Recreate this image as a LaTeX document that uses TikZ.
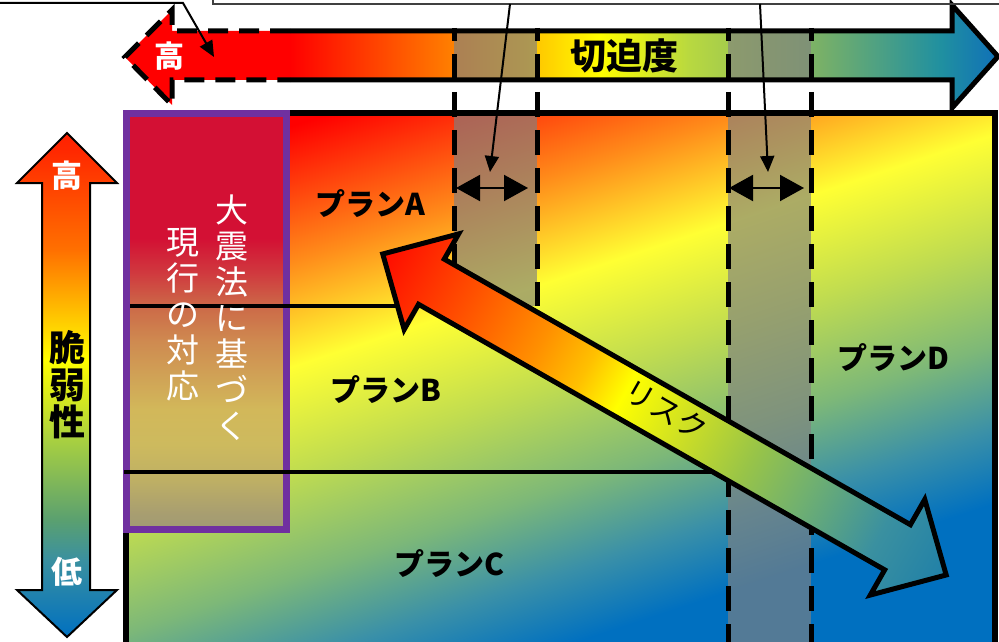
\documentclass[tikz,border=0pt]{standalone}
\usepackage{fontspec}
\setmainfont{Noto Sans CJK JP}
\usetikzlibrary{arrows.meta}

% main box colours
\definecolor{mA}{HTML}{0070C0}
\definecolor{mB}{HTML}{3A90A8}
\definecolor{mC}{HTML}{7DB878}
\definecolor{mD}{HTML}{C0DC50}
\definecolor{mE}{HTML}{FFFF33}
\definecolor{mF}{HTML}{FF8C1A}
\definecolor{mG}{HTML}{FF0000}
\pgfdeclareverticalshading{mainbg}{100bp}{color(0bp)=(mA); color(34bp)=(mA); color(38.4bp)=(mB); color(43.4bp)=(mC); color(49.6bp)=(mD); color(55.9bp)=(mE); color(62.1bp)=(mF); color(70.2bp)=(mG); color(100bp)=(mG)}

% top arrow colours
\definecolor{tR}{HTML}{FF0000}
\definecolor{tO}{HTML}{FF8000}
\definecolor{tY}{HTML}{FFFF00}
\definecolor{tL}{HTML}{B8D840}
\definecolor{tG}{HTML}{78B068}
\definecolor{tT}{HTML}{2090A0}
\definecolor{tB}{HTML}{1070B8}
\pgfdeclarehorizontalshading{toparr}{100bp}{color(0bp)=(tR); color(34.45bp)=(tR); color(43.8bp)=(tO); color(52.2bp)=(tY); color(57.35bp)=(tL); color(64.8bp)=(tG); color(71.7bp)=(tT); color(75bp)=(tB); color(100bp)=(tB)}

% big diagonal arrow colours
\definecolor{bA}{HTML}{FF0A00}
\definecolor{bB}{HTML}{FF5000}
\definecolor{bC}{HTML}{FF9000}
\definecolor{bD}{HTML}{FFC000}
\definecolor{bE}{HTML}{FFFF00}
\definecolor{bF}{HTML}{C8DC28}
\definecolor{bG}{HTML}{98C448}
\definecolor{bH}{HTML}{70B070}
\definecolor{bI}{HTML}{3A90A0}
\definecolor{bJ}{HTML}{2080A8}
\pgfdeclarehorizontalshading{bigarr}{100bp}{color(0bp)=(bA); color(25bp)=(bA); color(32.5bp)=(bB); color(39bp)=(bC); color(43bp)=(bD); color(46.5bp)=(bE); color(52.5bp)=(bF); color(57.5bp)=(bG); color(62.5bp)=(bH); color(69bp)=(bI); color(75bp)=(bJ); color(100bp)=(bJ)}

% left vertical arrow colours
\definecolor{lA}{HTML}{0070C0}
\definecolor{lB}{HTML}{3A90A0}
\definecolor{lC}{HTML}{5AA070}
\definecolor{lD}{HTML}{A8D040}
\definecolor{lE}{HTML}{FFFF00}
\definecolor{lF}{HTML}{FFB000}
\definecolor{lG}{HTML}{FF7000}
\definecolor{lH}{HTML}{FF2800}
\definecolor{lI}{HTML}{FF2000}
\pgfdeclareverticalshading{leftarr}{100bp}{color(0bp)=(lA); color(25bp)=(lA); color(32.65bp)=(lB); color(36.6bp)=(lC); color(44.55bp)=(lD); color(52.5bp)=(lE); color(58.45bp)=(lF); color(63.4bp)=(lG); color(73.3bp)=(lH); color(75bp)=(lI); color(100bp)=(lI)}

% purple box fill
\definecolor{pA}{HTML}{A09A74}
\definecolor{pB}{HTML}{A89E70}
\definecolor{pC}{HTML}{BFB064}
\definecolor{pD}{HTML}{CDBA5E}
\definecolor{pE}{HTML}{D2B85A}
\definecolor{pF}{HTML}{D0A256}
\definecolor{pG}{HTML}{CF8A50}
\definecolor{pH}{HTML}{CC6A48}
\definecolor{pI}{HTML}{D0383E}
\definecolor{pJ}{HTML}{D31034}
\pgfdeclareverticalshading{purpfill}{100bp}{color(0bp)=(pA); color(25bp)=(pA); color(27bp)=(pB); color(31.1bp)=(pC); color(35.2bp)=(pD); color(39.4bp)=(pE); color(43.45bp)=(pF); color(47.65bp)=(pG); color(51.75bp)=(pH); color(55.95bp)=(pI); color(60bp)=(pJ); color(100bp)=(pJ)}

\definecolor{bandgray}{HTML}{808080}
\definecolor{purpline}{HTML}{7030A0}
\definecolor{callgray}{HTML}{404040}

\begin{document}
\begin{tikzpicture}[x=1pt,y=-1pt,
  bandfill/.style={fill=bandgray,fill opacity=0.65},
  boldline/.style={line width=5pt},
  dashline/.style={line width=5pt,dash pattern=on 25pt off 13pt,dash phase=12pt},
  sepline/.style={line width=4.5pt},
  leader/.style={line width=2pt,-{Triangle[length=16pt,width=14pt]}},
  dblarr/.style={line width=2pt,{Triangle[length=24pt,width=26pt]}-{Triangle[length=24pt,width=26pt]}},
  plan/.style={font=\fontsize{30}{30}\selectfont\bfseries,inner sep=0pt},
  whitelab/.style={text=white,font=\fontsize{31}{31}\selectfont\bfseries,inner sep=0pt},
  vtext/.style={text=white,align=center,inner sep=0pt,font=\fontsize{33}{36}\selectfont}
]
\useasboundingbox (0,0) rectangle (999,642);

% ---------- main box gradient ----------
\begin{scope}
  \clip (126,113) rectangle (995,660);
  \begin{scope}[transform canvas={rotate around={18.3:(560,377.5)}}]
    \shade[shading=mainbg] (-40,-22.5) rectangle (1160,777.5);
  \end{scope}
\end{scope}

% ---------- top arrow fill ----------
\shade[shading=toparr] (125,57) -- (172,10) -- (172,31) -- (952,31) -- (952,5) -- (998,56.5) -- (952,108) -- (952,80) -- (172,80) -- (172,105) -- cycle;

% ---------- translucent bands ----------
\fill[bandfill] (454,31) rectangle (537,80);
\fill[bandfill] (728,31) rectangle (811,80);
\fill[bandfill] (454,113) rectangle (537,306);
\fill[bandfill] (728,113) rectangle (811,660);

% ---------- top arrow outline ----------
\draw[boldline,line join=miter] (290,31) -- (952,31) -- (952,5) -- (998,56.5) -- (952,108) -- (952,80) -- (290,80);
\draw[boldline,dash pattern=on 20pt off 11pt] (290,31) -- (172,31) -- (172,10) -- (125,57) -- (172,105) -- (172,80) -- (290,80);

% ---------- main box outline ----------
\draw[line width=5.5pt,line join=miter] (126,660) -- (126,113) -- (995,113) -- (995,660);

% ---------- purple box ----------
\shade[shading=purpfill] (126.5,113.5) rectangle (286.5,529.5);
\draw[purpline,line width=7pt] (126.5,113.5) rectangle (286.5,529.5);

% ---------- separator lines ----------
\draw[sepline] (130,306) -- (410,306);
\draw[sepline] (124,472) -- (715,472);

% ---------- dashed band edges ----------
\draw[dashline] (454,28) -- (454,306);
\draw[dashline] (537,28) -- (537,306);
\draw[dashline] (728,28) -- (728,660);
\draw[dashline] (811,28) -- (811,660);

% ---------- width arrows in bands ----------
\coordinate (w1a) at (456,188);
\coordinate (w1b) at (528,188);
\coordinate (w2a) at (729,188);
\coordinate (w2b) at (804,188);
\draw[dblarr] (w1a) -- (w1b);
\draw[dblarr] (w2a) -- (w2b);

% ---------- callout leaders ----------
\coordinate (c0) at (0,3);
\coordinate (c1) at (183,3);
\coordinate (c2) at (214,57);
\draw[leader] (c0) -- (c1) -- (c2);
\draw[callgray,line width=2pt] (213,-10) -- (213,4) -- (1010,4);
\coordinate (d1s) at (510,4);
\coordinate (d1e) at (490,172);
\coordinate (d2s) at (760,4);
\coordinate (d2e) at (768,172);
\draw[leader] (d1s) -- (d1e);
\draw[leader] (d2s) -- (d2e);

% ---------- big diagonal risk arrow ----------
\begin{scope}[transform canvas={rotate around={-29.67:(381,253)}}]
  \shadedraw[shading=bigarr,line width=5pt,line join=miter]
    (383,253) -- (439,198) -- (439,227) -- (975.5,227) -- (975.5,198) -- (1031.5,253)
    -- (975.5,308) -- (975.5,279) -- (439,279) -- (439,308) -- cycle;
\end{scope}
\node[rotate=-29.67,font=\fontsize{30}{30}\selectfont,inner sep=0pt] (risk) at (666,410) {リスク};

% ---------- left vertical arrow ----------
\shadedraw[shading=leftarr,line width=2pt,line join=miter]
  (67,133) -- (117,183) -- (90,183) -- (90,590) -- (117,590) -- (67,637) -- (17,590) -- (42,590) -- (42,183) -- (17,183) -- cycle;
\node[whitelab] (lhigh) at (67,176) {高};
\node[align=center,inner sep=0pt,font=\fontsize{36}{37}\selectfont\bfseries] (vuln) at (67,385) {脆\\弱\\性};
\node[whitelab] (llow) at (67,572) {低};

% ---------- top arrow labels ----------
\node[text=white,font=\fontsize{30}{30}\selectfont\bfseries,inner sep=0pt] (thigh) at (169,56) {高};
\node[font=\fontsize{36}{36}\selectfont\bfseries,inner sep=0pt] (urg) at (624,56) {切迫度};

% ---------- purple box texts ----------
\node[vtext] (colR) at (232,318) {大\\震\\法\\に\\基\\づ\\く};
\node[vtext] (colL) at (183,315) {現\\行\\の\\対\\応};

% ---------- plan labels ----------
\node[plan] (pa) at (370,204) {プランA};
\node[plan] (pb) at (386,390) {プランB};
\node[plan] (pc) at (450,564) {プランC};
\node[plan] (pd) at (893,358) {プランD};
\end{tikzpicture}
\end{document}
